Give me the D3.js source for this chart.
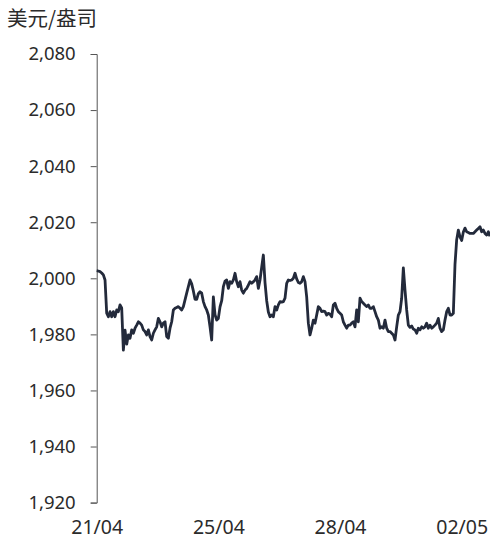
<!DOCTYPE html>
<html>
<head>
<meta charset="utf-8">
<script src="https://cdn.jsdelivr.net/npm/d3@7"></script>
<style>
  body { margin: 0; background: #fff; }
  text { font-family: "Noto Sans", sans-serif; fill: #2b2b2b; }
  .title { font-family: "Noto Sans CJK SC", sans-serif; }
</style>
</head>
<body>
<svg id="chart" width="490" height="546"></svg>
<script>
const unitLabel = "美元/盎司";

const yTicks = [1920, 1940, 1960, 1980, 2000, 2020, 2040, 2060, 2080];

const xTickIndex = [0, 73, 146, 219];
const xTickLabels = ["21/04", "25/04", "28/04", "02/05"];

// gold price, USD/oz
const prices = [
  2002.7, 2002.6, 2002.4, 2001.9, 2001.2, 1999.4, 1987.6, 1986.3, 1988.1, 1986.3,
  1988.1, 1986.3, 1988.7, 1988.1, 1990.5, 1989.4, 1974.4, 1981.5, 1976.5, 1979.8,
  1978.6, 1981.6, 1980.4, 1982.2, 1983.3, 1984.5, 1984.0, 1983.3, 1981.6, 1981.0,
  1979.8, 1981.6, 1979.2, 1978.0, 1980.4, 1981.6, 1982.7, 1985.7, 1984.5, 1982.7,
  1984.0, 1984.5, 1979.2, 1978.6, 1982.2, 1984.5, 1988.7, 1989.3, 1989.6, 1989.9,
  1989.3, 1988.7, 1989.9, 1992.3, 1994.7, 1997.0, 1999.4, 1998.0, 1995.5, 1992.5,
  1992.5, 1994.5, 1995.2, 1994.7, 1991.7, 1989.9, 1988.7, 1986.9, 1982.7, 1978.0,
  1993.4, 1987.0, 1985.1, 1985.7, 1989.8, 1992.0, 1997.0, 1999.0, 1999.4, 1996.4,
  1998.8, 1998.2, 1999.4, 2001.8, 1998.8, 1997.0, 1998.8, 1995.8, 1994.7, 1995.8,
  1996.4, 1997.6, 1998.8, 1998.2, 1998.8, 1999.4, 2000.6, 1996.4, 1999.4, 2004.0,
  2008.3, 1998.5, 1992.0, 1988.0, 1986.3, 1986.9, 1986.3, 1989.9, 1988.7, 1990.5,
  1991.7, 1991.5, 1991.7, 1992.9, 1998.2, 1999.4, 1999.2, 1999.4, 2000.0, 2001.8,
  1999.8, 1998.5, 1998.2, 1998.8, 2000.6, 1998.8, 1993.4, 1984.0, 1979.8, 1982.2,
  1985.1, 1984.0, 1986.9, 1989.9, 1989.3, 1988.1, 1988.3, 1988.1, 1986.9, 1987.5,
  1987.2, 1986.3, 1990.5, 1991.1, 1989.3, 1988.1, 1987.5, 1986.9, 1984.5, 1983.3,
  1982.2, 1983.3, 1983.3, 1984.0, 1984.5, 1982.7, 1988.7, 1984.5, 1992.9, 1991.7,
  1991.1, 1990.5, 1989.9, 1990.5, 1989.3, 1989.3, 1989.9, 1988.1, 1986.3, 1985.1,
  1982.2, 1982.7, 1982.2, 1985.1, 1982.2, 1981.0, 1981.0, 1980.4, 1979.8, 1978.0,
  1982.7, 1986.9, 1988.1, 1992.9, 2003.7, 1995.8, 1988.7, 1983.3, 1982.5, 1983.0,
  1981.9, 1981.6, 1980.4, 1982.2, 1981.6, 1982.7, 1982.2, 1982.7, 1984.0, 1982.2,
  1983.3, 1982.2, 1982.7, 1983.3, 1984.0, 1985.7, 1982.2, 1981.0, 1981.6, 1985.1,
  1988.1, 1989.3, 1986.9, 1986.9, 1987.5, 2005.0, 2013.7, 2017.2, 2014.8, 2013.5,
  2016.5, 2017.9, 2016.6, 2016.3, 2016.0, 2016.0, 2016.0, 2016.6, 2017.2, 2017.8,
  2018.4, 2016.6, 2017.2, 2016.0, 2015.4, 2016.6, 2015.0
];

const plot_left = 96.7, plot_right = 490, plot_top = 54, plot_bottom = 502.6;

const svg = d3.select("#chart");

const x = d3.scaleLinear()
    .domain([0, prices.length - 1])
    .range([plot_left, plot_right]);

const y = d3.scaleLinear()
    .domain([1920, 2080])
    .range([plot_bottom, plot_top]);

svg.append("text")
    .attr("class", "title")
    .attr("x", 7)
    .attr("y", 26)
    .style("font-size", "20.5px")
    .text(unitLabel);

const yAxis = svg.append("g")
    .attr("transform", "translate(" + plot_left + ",0)")
    .call(d3.axisLeft(y)
        .tickValues(yTicks)
        .tickFormat(d3.format(","))
        .tickSizeOuter(0)
        .tickSize(6)
        .tickPadding(15));

yAxis.selectAll("path, line").attr("stroke", "#555");
yAxis.selectAll("text")
    .style("font-size", "18.5px")
    .style("font-family", "'Noto Sans', sans-serif")
    .attr("fill", "#2b2b2b");

const xAxis = svg.append("g")
    .attr("transform", "translate(0," + plot_bottom + ")")
    .call(d3.axisBottom(x)
        .tickValues(xTickIndex)
        .tickFormat((d, i) => xTickLabels[i])
        .tickSize(0)
        .tickPadding(18));

xAxis.select(".domain").remove();
xAxis.selectAll("text")
    .style("font-size", "19.5px")
    .style("font-family", "'Noto Sans', sans-serif")
    .attr("fill", "#2b2b2b");

const line = d3.line()
    .x((d, i) => x(i))
    .y(d => y(d));

svg.append("path")
    .datum(prices)
    .attr("fill", "none")
    .attr("stroke", "#232a3b")
    .attr("stroke-width", 2.8)
    .attr("stroke-linejoin", "round")
    .attr("d", line);
</script>
</body>
</html>
